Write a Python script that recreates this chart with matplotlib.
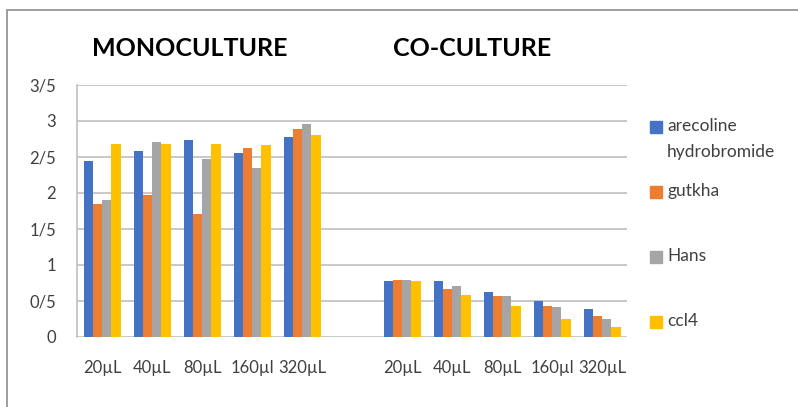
import matplotlib.pyplot as plt
import numpy as np
from matplotlib.patches import Rectangle

# data
doses = ['20µL', '40µL', '80µL', '160µl', '320µL']
series = ['arecoline\nhydrobromide', 'gutkha', 'Hans', 'ccl4']
colors = ['#4472C4', '#ED7D31', '#A5A5A5', '#FFC000']

mono_arecoline = [2.44, 2.58, 2.73, 2.56, 2.77]
mono_gutkha = [1.85, 1.97, 1.71, 2.63, 2.89]
mono_hans = [1.90, 2.71, 2.47, 2.35, 2.96]
mono_ccl4 = [2.68, 2.68, 2.68, 2.66, 2.80]

co_arecoline = [0.77, 0.77, 0.62, 0.50, 0.38]
co_gutkha = [0.79, 0.67, 0.57, 0.43, 0.29]
co_hans = [0.79, 0.70, 0.57, 0.41, 0.24]
co_ccl4 = [0.77, 0.58, 0.43, 0.25, 0.14]

mono = [mono_arecoline, mono_gutkha, mono_hans, mono_ccl4]
co = [co_arecoline, co_gutkha, co_hans, co_ccl4]

plt.rcParams['font.family'] = ['Lato', 'DejaVu Sans']

fig = plt.figure(figsize=(7.98, 4.07), dpi=100)
ax = fig.add_axes([77 / 798, 70.3 / 407, 550 / 798, 251.7 / 407])

# chart frame
fig.patches.append(Rectangle((7 / 798, -0.1), 1.1, (407 - 10) / 407 + 0.1,
                             transform=fig.transFigure, fill=False,
                             edgecolor='#8c8c8c', linewidth=1.2))

x_mono = np.arange(5)
x_co = np.arange(6, 11)
w = 0.185
for i in range(4):
    off = (i - 1.5) * w
    ax.bar(x_mono + off, mono[i], width=w, color=colors[i], zorder=3)
    ax.bar(x_co + off, co[i], width=w, color=colors[i], zorder=3)

ax.set_xlim(-0.5, 10.5)
ax.set_ylim(0, 3.5)
yt = np.arange(0, 3.51, 0.5)
ax.set_yticks(yt)
ax.set_yticklabels([('%g' % v).replace('.', '/') for v in yt])
ax.set_xticks(list(x_mono) + list(x_co))
ax.set_xticklabels(doses + doses)
ax.tick_params(axis='both', length=0, labelsize=12, colors='#404040')
ax.tick_params(axis='y', pad=15)
ax.tick_params(axis='x', pad=17)
ax.grid(axis='y', color='#bfbfbf', linewidth=1.2, zorder=0)
for s in ['top', 'right']:
    ax.spines[s].set_visible(False)
ax.spines['bottom'].set_visible(False)
ax.spines['left'].set_color('#bfbfbf')
ax.spines['left'].set_linewidth(1.2)

fig.text(190 / 798, 1 - 48.5 / 407, 'MONOCULTURE', ha='center', va='center',
         fontsize=18, fontweight='bold', color='black')
fig.text(472 / 798, 1 - 48.5 / 407, 'CO-CULTURE', ha='center', va='center',
         fontsize=18, fontweight='bold', color='black')

# legend drawn by hand to follow the reference spacing
leg_y = [127, 192, 257, 322]
for lab, col, yy in zip(series, colors, leg_y):
    fig.patches.append(Rectangle((650 / 798, 1 - (yy + 6) / 407), 12 / 798, 12 / 407,
                                 transform=fig.transFigure, color=col))
    fig.text(667 / 798, 1 - (yy - 9) / 407, lab, ha='left', va='top',
             fontsize=12.5, color='#404040', linespacing=1.75)

fig.savefig('out.png', dpi=100)
